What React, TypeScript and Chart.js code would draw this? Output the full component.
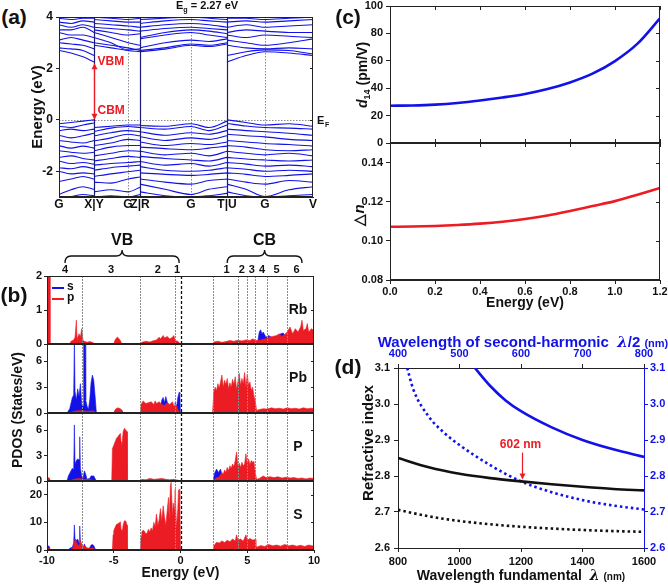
import React, { useEffect, useRef } from "react";
import { Chart, registerables } from "chart.js";

Chart.register(...registerables);

const FONT = "'Liberation Sans', Arial, Helvetica, sans-serif";
Chart.defaults.font.family = FONT;
(Chart.defaults.font as any).weight = "bold";
Chart.defaults.font.size = 11;
Chart.defaults.color = "#111";

const BLUE = "#1212e8";
const RED = "#ec1c24";
const AXIS = "#222";

// ---------------- (a) band structure ----------------
const kSeg1 = [0, 12, 24, 35];
const kSeg2 = [35, 52, 69, 81];
const kSeg3 = [81, 106, 132, 150, 168];
const kSeg4 = [168, 187, 206, 230, 254];
const kPath = [kSeg1, kSeg2, kSeg3, kSeg4];
const kTickPos = [0, 35, 69, 81, 132, 168, 206, 254];
const kTickLabels = ["G", "X|Y", "G", "Z|R", "G", "T|U", "G", "V"];
const kBoundaryLines = [35, 81, 168];
const kGammaLines = [69, 132, 206];
const bandYTicks = [-2, 0, 2, 4];
const gapK = 35;
const gapTopE = 2.2;
const gapBottomE = 0;

const valenceBands = [
  [[-0.15, -0.1, -0.05, 0.0], [-0.3, -0.25, -0.2, -0.2], [-0.22, -0.25, -0.15, -0.3, -0.05], [0.0, -0.1, -0.2, -0.15, -0.25]],
  [[-0.25, -0.3, -0.2, -0.12], [-0.45, -0.32, -0.26, -0.3], [-0.3, -0.36, -0.26, -0.42, -0.2], [-0.14, -0.24, -0.3, -0.32, -0.36]],
  [[-0.42, -0.36, -0.42, -0.36], [-0.62, -0.5, -0.42, -0.46], [-0.46, -0.6, -0.5, -0.56, -0.42], [-0.36, -0.42, -0.46, -0.52, -0.6]],
  [[-0.6, -0.7, -0.62, -0.52], [-0.82, -0.7, -0.56, -0.62], [-0.66, -0.8, -0.7, -0.76, -0.62], [-0.56, -0.62, -0.66, -0.76, -0.8]],
  [[-0.8, -0.86, -0.9, -0.8], [-1.0, -0.9, -0.76, -0.8], [-0.86, -1.0, -0.92, -0.96, -0.86], [-0.8, -0.86, -0.92, -0.96, -1.02]],
  [[-1.0, -1.1, -1.02, -1.1], [-1.2, -1.06, -1.0, -1.0], [-1.06, -1.12, -1.16, -1.1, -1.02], [-1.0, -1.06, -1.16, -1.2, -1.16]],
  [[-1.2, -1.26, -1.3, -1.26], [-1.4, -1.3, -1.2, -1.22], [-1.22, -1.36, -1.3, -1.4, -1.22], [-1.22, -1.3, -1.36, -1.3, -1.4]],
  [[-1.46, -1.4, -1.5, -1.56], [-1.6, -1.5, -1.42, -1.46], [-1.42, -1.5, -1.56, -1.6, -1.46], [-1.46, -1.52, -1.56, -1.6, -1.56]],
  [[-1.6, -1.7, -1.66, -1.72], [-1.76, -1.7, -1.66, -1.62], [-1.62, -1.76, -1.7, -1.8, -1.66], [-1.66, -1.72, -1.8, -1.76, -1.82]],
  [[-1.86, -1.9, -1.82, -1.9], [-1.96, -1.86, -1.8, -1.76], [-1.82, -1.96, -2.0, -1.96, -1.86], [-1.86, -1.92, -2.0, -1.96, -2.0]],
  [[-2.0, -2.1, -2.06, -2.1], [-2.2, -2.1, -2.02, -1.96], [-2.06, -2.12, -2.16, -2.12, -2.06], [-2.06, -2.12, -2.2, -2.16, -2.1]],
  [[-2.4, -2.3, -2.2, -2.3], [-2.42, -2.46, -2.3, -2.22], [-2.3, -2.42, -2.5, -2.36, -2.3], [-2.3, -2.42, -2.5, -2.36, -2.42]],
  [[-2.9, -2.72, -2.6, -2.7], [-2.8, -2.72, -2.8, -2.62], [-2.5, -2.7, -2.9, -2.7, -2.6], [-2.5, -2.7, -2.98, -2.72, -2.6]],
  [[-3.0, -2.98, -2.9, -2.95], [-3.0, -2.95, -3.0, -2.9], [-2.8, -2.95, -3.0, -2.95, -2.86], [-2.8, -2.95, -3.0, -2.95, -2.9]],
];

const conductionBands = [
  [[2.7, 2.6, 2.45, 2.25], [2.9, 2.8, 2.7, 2.65], [2.65, 2.75, 2.9, 2.85, 2.95], [2.25, 2.5, 2.65, 2.6, 2.5]],
  [[2.8, 2.76, 2.7, 2.5], [3.0, 2.9, 2.8, 2.7], [2.7, 2.8, 2.95, 2.9, 3.0], [2.5, 2.65, 2.72, 2.7, 2.56]],
  [[3.0, 2.95, 2.9, 2.76], [3.2, 3.0, 2.72, 2.76], [2.8, 3.0, 3.1, 3.05, 3.15], [2.9, 2.8, 2.76, 2.8, 2.76]],
  [[3.1, 3.2, 3.1, 3.0], [3.4, 3.2, 3.0, 2.9], [3.15, 3.3, 3.4, 3.3, 3.2], [3.1, 3.0, 2.9, 3.0, 3.15]],
  [[3.4, 3.3, 3.3, 3.2], [3.5, 3.4, 3.3, 3.35], [3.2, 3.4, 3.5, 3.45, 3.35], [3.3, 3.2, 3.3, 3.25, 3.2]],
  [[3.5, 3.5, 3.6, 3.4], [3.6, 3.55, 3.5, 3.45], [3.45, 3.55, 3.6, 3.55, 3.5], [3.4, 3.5, 3.45, 3.4, 3.4]],
  [[3.7, 3.6, 3.7, 3.6], [3.75, 3.7, 3.65, 3.6], [3.6, 3.7, 3.75, 3.7, 3.6], [3.6, 3.7, 3.6, 3.65, 3.7]],
  [[3.8, 3.75, 3.85, 3.8], [3.9, 3.85, 3.8, 3.8], [3.75, 3.85, 3.9, 3.85, 3.8], [3.8, 3.85, 3.8, 3.85, 3.9]],
  [[3.95, 3.9, 3.95, 3.95], [4.0, 3.95, 3.9, 3.95], [3.9, 3.95, 4.0, 3.95, 3.9], [3.95, 3.95, 3.9, 3.95, 4.0]],
];

// ---------------- (b) PDOS ----------------
const pdosXTicks = [-10, -5, 0, 5, 10];
const pdosGuideLines = [-7.4, -3.0, -0.42, 2.42, 4.28, 4.95, 5.58, 6.45, 7.95];
const fermiE = 0;
const vbBraceRange = [-8.65, -0.1];
const cbBraceRange = [3.5, 9.1];
const vbLabelE = [-8.65, -5.2, -1.7, -0.25];
const vbLabels = ["4", "3", "2", "1"];
const cbLabelE = [3.45, 4.6, 5.35, 6.1, 7.2, 8.7];
const cbLabels = ["1", "2", "3", "4", "5", "6"];

const rbS = [[5.6, 0], [5.8, 0.1], [5.9, 0.35], [6.0, 0.42], [6.1, 0.3], [6.2, 0.35], [6.4, 0.2], [6.6, 0.25], [6.8, 0.2], [7.0, 0.18], [7.2, 0.2], [7.5, 0.3], [7.7, 0.32], [7.9, 0.2], [8.2, 0.1], [8.5, 0]];
const rbP = [
  [-10.0, 0], [-10.0, 30], [-9.78, 30], [-9.75, 0],
  [-8.3, 0], [-8.2, 0.08], [-8.0, 0.12], [-7.9, 0.2], [-7.8, 0.7], [-7.75, 0.15], [-7.6, 0.3], [-7.5, 0.2], [-7.4, 0.45], [-7.3, 0.1], [-7.2, 0.08], [-7.0, 0.05], [-6.8, 0.07], [-6.6, 0.05], [-6.4, 0],
  [-5.0, 0], [-4.9, 0.12], [-4.8, 0.18], [-4.7, 0.2], [-4.6, 0.15], [-4.5, 0.1], [-4.4, 0],
  [-3.0, 0], [-2.9, 0.05], [-2.6, 0.08], [-2.3, 0.06], [-2.0, 0.1], [-1.8, 0.12], [-1.6, 0.2], [-1.5, 0.15], [-1.3, 0.25], [-1.2, 0.18], [-1.0, 0.22], [-0.8, 0.15], [-0.6, 0.2], [-0.5, 0.25], [-0.4, 0.1], [-0.2, 0.08], [0, 0],
  [2.4, 0], [2.5, 0.06], [2.8, 0.08], [3.1, 0.05], [3.4, 0.07], [3.7, 0.1], [4.0, 0.08], [4.3, 0.11], [4.6, 0.09], [4.9, 0.12], [5.2, 0.1], [5.4, 0.15], [5.7, 0.1], [6.0, 0.12], [6.3, 0.15], [6.6, 0.2], [6.9, 0.22], [7.2, 0.25], [7.4, 0.3], [7.6, 0.22], [7.8, 0.28], [8.0, 0.35], [8.2, 0.5], [8.4, 0.3], [8.6, 0.45], [8.8, 0.35], [9.0, 0.5], [9.1, 0.7], [9.2, 0.4], [9.4, 0.45], [9.5, 0.6], [9.6, 0.35], [9.8, 0.45], [10, 0.4],
];
const pbS = [
  [-8.5, 0], [-8.3, 0.5], [-8.1, 1.8], [-8.0, 2.1], [-7.95, 8.5], [-7.9, 2.5], [-7.8, 1.5], [-7.7, 2.8], [-7.6, 1.9], [-7.5, 3.4], [-7.4, 1.0], [-7.3, 0.8], [-7.25, 9], [-7.15, 9], [-7.1, 1.5], [-7.0, 0.8], [-6.9, 0.4], [-6.8, 1.5], [-6.7, 3.5], [-6.6, 4.4], [-6.5, 3.8], [-6.4, 2.0], [-6.3, 0],
  [-5.0, 0], [-4.9, 0.2], [-4.7, 0.4], [-4.6, 0.2], [-4.4, 0.35], [-4.3, 0],
  [-1.6, 0], [-1.5, 0.6], [-1.4, 1.5], [-1.3, 1.8], [-1.2, 1.2], [-1.1, 1.9], [-1.0, 1.3], [-0.9, 0.8], [-0.8, 0], [-0.45, 0], [-0.4, 1.2], [-0.3, 0.6], [-0.2, 1.8], [-0.1, 2.4], [-0.05, 2.2], [0, 0],
];
const pbP = [
  [-8.3, 0], [-8.0, 0.2], [-7.5, 0.3], [-7.0, 0.2], [-6.5, 0.25], [-6.3, 0],
  [-5.0, 0], [-4.9, 0.4], [-4.7, 0.6], [-4.5, 0.5], [-4.4, 0.3], [-4.3, 0],
  [-3.0, 0], [-2.95, 1.0], [-2.8, 1.4], [-2.6, 1.1], [-2.4, 1.2], [-2.2, 1.3], [-2.0, 1.0], [-1.9, 1.4], [-1.8, 1.1], [-1.6, 1.3], [-1.4, 1.0], [-1.2, 0.9], [-1.0, 1.2], [-0.8, 1.0], [-0.6, 1.3], [-0.5, 0.8], [-0.3, 0.9], [-0.2, 0.4], [0, 0],
  [2.4, 0], [2.5, 2.5], [2.6, 3.0], [2.7, 2.6], [2.8, 3.4], [2.9, 2.9], [3.0, 3.6], [3.1, 4.4], [3.2, 3.0], [3.3, 3.8], [3.4, 3.3], [3.5, 4.0], [3.6, 2.8], [3.7, 3.5], [3.8, 3.0], [3.9, 3.9], [4.0, 3.3], [4.1, 4.2], [4.2, 2.7], [4.3, 3.6], [4.4, 4.6], [4.5, 3.2], [4.6, 4.0], [4.7, 3.4], [4.8, 4.7], [4.9, 3.0], [5.0, 4.5], [5.1, 3.2], [5.2, 3.6], [5.3, 2.6], [5.4, 3.0], [5.5, 2.0], [5.6, 1.4], [5.7, 0.3], [5.9, 0.4], [6.2, 0.5], [6.5, 0.45], [6.8, 0.6], [7.1, 0.5], [7.4, 0.55], [7.7, 0.45], [8.0, 0.6], [8.3, 0.5], [8.6, 0.55], [8.9, 0.45], [9.2, 0.6], [9.5, 0.5], [9.8, 0.55], [10, 0.5],
];
const pS = [
  [-10, 0], [-9.95, 0.2], [-9.85, 0.3], [-9.75, 0],
  [-8.5, 0], [-8.4, 0.6], [-8.2, 1.2], [-8.1, 1.5], [-8.0, 1.3], [-7.95, 6.6], [-7.9, 2.0], [-7.8, 2.4], [-7.7, 2.6], [-7.6, 2.5], [-7.55, 5.2], [-7.5, 1.5], [-7.4, 0.6], [-7.3, 0.3], [-7.2, 1.2], [-7.1, 0.8], [-7.0, 0.2], [-6.8, 0.3], [-6.7, 0.6], [-6.5, 0.6], [-6.4, 0.3], [-6.3, 0],
  [-4.9, 0], [-4.8, 0.1], [-4.6, 0.1], [-4.5, 0],
  [2.45, 0], [2.55, 0.9], [2.7, 1.4], [2.85, 1.0], [3.0, 1.4], [3.1, 0.8], [3.2, 0],
];
const pP = [
  [-10, 0], [-9.95, 0.3], [-9.85, 0.4], [-9.75, 0],
  [-8.3, 0], [-8.0, 0.2], [-7.6, 0.3], [-7.2, 0.2], [-6.8, 0.2], [-6.4, 0],
  [-5.15, 0], [-5.1, 3.8], [-5.0, 4.2], [-4.9, 4.6], [-4.8, 5.0], [-4.7, 5.2], [-4.6, 5.4], [-4.5, 5.6], [-4.45, 4.6], [-4.4, 3.8], [-4.3, 5.8], [-4.2, 6.2], [-4.1, 6.0], [-4.0, 5.8], [-3.98, 0],
  [-3.0, 0], [-2.9, 0.2], [-2.6, 0.15], [-2.3, 0.3], [-2.0, 0.2], [-1.7, 0.25], [-1.4, 0.3], [-1.1, 0.2], [-0.8, 0.15], [-0.5, 0.2], [-0.2, 0.1], [0, 0],
  [2.5, 0], [2.6, 0.3], [2.9, 0.5], [3.1, 1.0], [3.2, 0.8], [3.3, 1.3], [3.4, 1.0], [3.5, 1.6], [3.6, 1.2], [3.7, 1.8], [3.8, 1.5], [3.9, 2.0], [4.0, 1.7], [4.1, 2.4], [4.2, 3.4], [4.3, 1.8], [4.4, 2.1], [4.5, 1.6], [4.6, 2.2], [4.7, 1.8], [4.8, 2.0], [4.9, 3.2], [5.0, 2.0], [5.1, 2.6], [5.2, 1.9], [5.3, 2.4], [5.4, 2.2], [5.5, 2.3], [5.6, 1.0], [5.7, 0.2], [5.9, 0.3], [6.2, 0.6], [6.4, 0.4], [6.7, 0.5], [7.0, 0.4], [7.3, 0.5], [7.6, 0.35], [7.9, 0.45], [8.2, 0.35], [8.5, 0.4], [8.8, 0.3], [9.1, 0.35], [9.4, 0.25], [9.7, 0.35], [10, 0.3],
];
const sS = [
  [-10, 0], [-9.95, 1.2], [-9.85, 1.5], [-9.75, 0],
  [-8.4, 0], [-8.3, 0.6], [-8.1, 1.0], [-8.0, 2.5], [-7.95, 9.1], [-7.9, 4.0], [-7.8, 3.5], [-7.7, 4.0], [-7.6, 2.5], [-7.55, 8.7], [-7.5, 3.0], [-7.4, 1.0], [-7.3, 0.6], [-7.2, 2.2], [-7.1, 1.0], [-7.0, 0.3], [-6.8, 0.8], [-6.7, 1.8], [-6.6, 2.0], [-6.5, 1.6], [-6.4, 0.5], [-6.3, 0],
];
const sP = [
  [-10, 0], [-9.95, 0.5], [-9.85, 0.6], [-9.75, 0],
  [-8.3, 0], [-8.1, 0.5], [-8.0, 1.5], [-7.9, 4.0], [-7.8, 3.0], [-7.7, 2.0], [-7.6, 1.5], [-7.5, 3.5], [-7.4, 2.0], [-7.3, 1.0], [-7.2, 1.5], [-7.0, 0.8], [-6.8, 0.5], [-6.6, 0.8], [-6.4, 0.3], [-6.3, 0],
  [-5.1, 0], [-5.05, 5.5], [-5.0, 7.0], [-4.9, 8.2], [-4.8, 9.2], [-4.7, 9.5], [-4.6, 9.8], [-4.5, 10.2], [-4.45, 7.5], [-4.35, 7.0], [-4.3, 9.0], [-4.2, 10.6], [-4.1, 10.5], [-4.0, 9.0], [-3.98, 0],
  [-3.0, 0], [-2.95, 5.0], [-2.9, 6.5], [-2.8, 7.2], [-2.7, 6.8], [-2.6, 5.8], [-2.5, 6.2], [-2.4, 7.5], [-2.3, 6.5], [-2.2, 8.0], [-2.1, 7.0], [-2.0, 10.0], [-1.9, 8.5], [-1.8, 13.0], [-1.7, 9.0], [-1.6, 11.0], [-1.5, 15.0], [-1.4, 10.5], [-1.3, 16.0], [-1.2, 12.0], [-1.1, 9.0], [-1.0, 14.0], [-0.9, 19.0], [-0.85, 11.0], [-0.75, 23.5], [-0.7, 24.5], [-0.6, 12.0], [-0.55, 17.0], [-0.45, 14.0], [-0.4, 22.0], [-0.3, 8.0], [-0.2, 15.0], [-0.15, 21.5], [-0.1, 22.0], [-0.05, 18.0], [0, 0],
  [2.45, 0], [2.5, 1.5], [2.7, 2.8], [2.9, 2.5], [3.1, 3.3], [3.3, 2.7], [3.5, 3.5], [3.7, 3.0], [3.9, 4.0], [4.1, 3.3], [4.2, 5.5], [4.3, 3.5], [4.5, 4.0], [4.7, 3.2], [4.9, 5.5], [5.0, 3.5], [5.2, 4.2], [5.4, 3.6], [5.6, 3.8], [5.65, 1.0], [5.8, 1.2], [6.0, 1.6], [6.3, 1.3], [6.6, 2.0], [6.9, 1.5], [7.2, 1.8], [7.5, 1.4], [7.8, 2.0], [8.1, 1.5], [8.4, 1.8], [8.7, 1.4], [9.0, 1.7], [9.3, 1.3], [9.6, 1.8], [10, 1.4],
];

// ---------------- (c) ----------------
const energyC = [0, 0.1, 0.2, 0.3, 0.4, 0.5, 0.6, 0.7, 0.8, 0.9, 1.0, 1.1, 1.2];
const d14Values = [27.2, 27.4, 28.0, 29.2, 31.0, 33.2, 35.8, 39.4, 44.2, 50.6, 59.8, 72.5, 91.0];
const deltaNValues = [0.1072, 0.1073, 0.1076, 0.1081, 0.1088, 0.1098, 0.1112, 0.113, 0.1153, 0.1178, 0.1203, 0.1236, 0.127];
const cTicksX = [0, 0.2, 0.4, 0.6, 0.8, 1.0, 1.2];
const d14Ticks = [0, 20, 40, 60, 80, 100];
const dnTicks = [0.08, 0.1, 0.12, 0.14];

// ---------------- (d) ----------------
const lambdaFund = [800, 900, 1000, 1100, 1200, 1300, 1400, 1500, 1600];
const nFundSolid = [2.85, 2.824, 2.806, 2.794, 2.785, 2.777, 2.77, 2.764, 2.76];
const nFundDotted = [2.706, 2.688, 2.675, 2.666, 2.659, 2.654, 2.65, 2.647, 2.645];
const lambdaSHDot = [415, 425, 450, 475, 500, 550, 600, 650, 700, 750, 800];
const nSHDotted = [3.1, 3.04, 2.965, 2.92, 2.886, 2.83, 2.785, 2.755, 2.733, 2.718, 2.707];
const lambdaSHSolid = [525, 550, 575, 600, 650, 700, 750, 800];
const nSHSolid = [3.1, 3.05, 3.01, 2.98, 2.935, 2.9, 2.874, 2.853];
const dFundTicks = [800, 1000, 1200, 1400, 1600];
const dSHTicks = [400, 500, 600, 700, 800];
const dNTicks = [2.6, 2.7, 2.8, 2.9, 3.0, 3.1];
const phaseMatchSH = 602;
const phaseArrowN = [2.865, 2.79];

// ---------------- helpers ----------------
type Box = { L: number; T: number; R: number; B: number; wl: number; wr: number; ht: number; hb: number; pl: number; pr: number; pt: number; pb: number };
const mk = (L: number, T: number, R: number, B: number, o: Partial<Box>): Box => ({ L, T, R, B, wl: 0, wr: 0, ht: 0, hb: 0, pl: 0, pr: 0, pt: 0, pb: 0, ...o });

const fitW = (w: number) => (s: any) => { s.width = w; };
const fitH = (h: number) => (s: any) => { s.height = h; };
const fixed = (vals: number[]) => (s: any) => { s.ticks = vals.map((v) => ({ value: v })); };
const pairs = (a: number[][]) => a.map(([x, y]) => ({ x, y }));
const xy = (xs: number[], ys: number[]) => xs.map((x, i) => ({ x, y: ys[i] }));

function baseOptions(b: Box) {
  return {
    responsive: false,
    animation: false,
    events: [],
    layout: { padding: { left: b.pl, right: b.pr, top: b.pt, bottom: b.pb } },
    plugins: { legend: { display: false }, tooltip: { enabled: false } },
    elements: { point: { radius: 0 }, line: { tension: 0 } },
  };
}

function txt(ctx: any, s: string, x: number, y: number, o: any = {}) {
  ctx.save();
  ctx.font = `${o.italic ? "italic " : ""}bold ${o.size || 11}px ${FONT}`;
  ctx.fillStyle = o.color || "#111";
  ctx.textAlign = o.align || "center";
  ctx.textBaseline = o.baseline || "middle";
  ctx.fillText(s, x, y);
  ctx.restore();
}

function vline(ctx: any, x: number, y1: number, y2: number, color: string, width: number, dash: number[]) {
  ctx.save();
  ctx.strokeStyle = color;
  ctx.lineWidth = width;
  ctx.setLineDash(dash);
  ctx.beginPath();
  ctx.moveTo(Math.round(x) + 0.5, y1);
  ctx.lineTo(Math.round(x) + 0.5, y2);
  ctx.stroke();
  ctx.restore();
}

function frame(chart: any, color = AXIS) {
  const { ctx, chartArea: a } = chart;
  ctx.save();
  ctx.strokeStyle = color;
  ctx.lineWidth = 1;
  ctx.strokeRect(Math.round(a.left) + 0.5, Math.round(a.top) + 0.5, Math.round(a.right - a.left) - 1, Math.round(a.bottom - a.top) - 1);
  ctx.restore();
}

function mirror(chart: any, o: { right?: number[]; top?: number[]; bottom?: number[]; len?: number; color?: string }) {
  const { ctx, chartArea: a, scales } = chart;
  const len = o.len || 4;
  ctx.save();
  ctx.strokeStyle = o.color || AXIS;
  ctx.lineWidth = 1;
  ctx.beginPath();
  (o.right || []).forEach((v) => { const y = Math.round(scales.y.getPixelForValue(v)) + 0.5; ctx.moveTo(a.right, y); ctx.lineTo(a.right - len, y); });
  (o.top || []).forEach((v) => { const x = Math.round(scales.x.getPixelForValue(v)) + 0.5; ctx.moveTo(x, a.top); ctx.lineTo(x, a.top + len); });
  (o.bottom || []).forEach((v) => { const x = Math.round(scales.x.getPixelForValue(v)) + 0.5; ctx.moveTo(x, a.bottom); ctx.lineTo(x, a.bottom - len); });
  ctx.stroke();
  ctx.restore();
}

function arrowHead(ctx: any, x: number, y: number, dir: number, color: string) {
  ctx.save();
  ctx.fillStyle = color;
  ctx.beginPath();
  ctx.moveTo(x, y);
  ctx.lineTo(x - 3, y - dir * 6);
  ctx.lineTo(x + 3, y - dir * 6);
  ctx.closePath();
  ctx.fill();
  ctx.restore();
}

function PlacedChart({ box, build }: { box: Box; build: (b: Box) => any }) {
  const ref = useRef<HTMLCanvasElement>(null);
  const left = box.L - box.wl - box.pl;
  const top = box.T - box.ht - box.pt;
  const width = box.R + box.wr + box.pr - left;
  const height = box.B + box.hb + box.pb - top;
  useEffect(() => {
    const chart = new Chart(ref.current as HTMLCanvasElement, build(box));
    return () => chart.destroy();
  }, []);
  return <canvas ref={ref} width={width} height={height} style={{ position: "absolute", left, top, width, height }} />;
}

// ---------------- (a) config ----------------
function bandPoints(band: number[][]) {
  const pts: any[] = [];
  kPath.forEach((seg, s) => {
    seg.forEach((k, j) => pts.push({ x: k, y: band[s][j] }));
    if (s < kPath.length - 1) pts.push({ x: seg[seg.length - 1], y: null });
  });
  return pts;
}

const boxA = mk(59, 17, 313, 197, { wl: 30, hb: 16, pt: 14, pr: 16 });
function buildBand(b: Box) {
  return {
    type: "line",
    data: {
      datasets: [...valenceBands, ...conductionBands].map((band) => ({
        data: bandPoints(band), borderColor: BLUE, borderWidth: 1.1, pointRadius: 0,
        cubicInterpolationMode: "monotone", spanGaps: false, fill: false,
      })),
    },
    options: {
      ...baseOptions(b),
      scales: {
        x: {
          type: "linear", min: 0, max: 254, afterFit: fitH(b.hb), afterBuildTicks: fixed(kTickPos),
          ticks: { autoSkip: false, maxRotation: 0, minRotation: 0, padding: 0, font: { size: 12 }, callback: (_v: any, i: number) => kTickLabels[i] },
          grid: { display: false, drawTicks: false }, border: { color: AXIS },
        },
        y: {
          type: "linear", min: -3, max: 4, afterFit: fitW(b.wl), afterBuildTicks: fixed(bandYTicks),
          ticks: { padding: 3, font: { size: 12 } },
          grid: { drawOnChartArea: false, tickLength: 3, color: AXIS }, border: { color: AXIS },
          title: { display: true, text: "Energy (eV)", font: { size: 15, weight: "bold" }, padding: 0, color: "#111" },
        },
      },
    },
    plugins: [{
      id: "bandDecor",
      beforeDatasetsDraw(chart: any) {
        const { ctx, chartArea: a, scales } = chart;
        kGammaLines.forEach((k) => vline(ctx, scales.x.getPixelForValue(k), a.top, a.bottom, "#8c8c8c", 1, [1.5, 1.5]));
        const y0 = Math.round(scales.y.getPixelForValue(0)) + 0.5;
        ctx.save(); ctx.strokeStyle = "#8c8c8c"; ctx.setLineDash([1.5, 1.5]); ctx.beginPath(); ctx.moveTo(a.left, y0); ctx.lineTo(a.right, y0); ctx.stroke(); ctx.restore();
      },
      afterDatasetsDraw(chart: any) {
        const { ctx, chartArea: a, scales } = chart;
        kBoundaryLines.forEach((k) => vline(ctx, scales.x.getPixelForValue(k), a.top, a.bottom, "#1a1a7a", 1.2, []));
        frame(chart);
        mirror(chart, { right: bandYTicks, len: 3 });
        const x = Math.round(scales.x.getPixelForValue(gapK)) + 0.5;
        const yT = scales.y.getPixelForValue(gapTopE);
        const yB = scales.y.getPixelForValue(gapBottomE);
        ctx.save(); ctx.strokeStyle = RED; ctx.lineWidth = 1.2; ctx.beginPath(); ctx.moveTo(x, yT + 4); ctx.lineTo(x, yB - 4); ctx.stroke(); ctx.restore();
        arrowHead(ctx, x, yT, -1, RED);
        arrowHead(ctx, x, yB, 1, RED);
        txt(ctx, "VBM", x + 3, scales.y.getPixelForValue(2.25), { color: RED, size: 12, align: "left" });
        txt(ctx, "CBM", x + 3, scales.y.getPixelForValue(0.35), { color: RED, size: 12, align: "left" });
        const yF = scales.y.getPixelForValue(0);
        txt(ctx, "E", a.right + 4, yF + 1, { size: 11, align: "left" });
        txt(ctx, "F", a.right + 12, yF + 5, { size: 7, align: "left" });
      },
    }],
  };
}

// ---------------- (b) config ----------------
type PdosCfg = { id: string; name: string; s: number[][]; p: number[][]; yMax: number; ticks: number[]; bottomAxis: boolean; extra?: (chart: any) => void };

function buildPdos(cfg: PdosCfg) {
  return (b: Box) => ({
    type: "line",
    data: {
      datasets: [
        { label: "s", data: pairs(cfg.s), borderColor: BLUE, backgroundColor: BLUE, fill: "origin", borderWidth: 0.6, pointRadius: 0, order: 1 },
        { label: "p", data: pairs(cfg.p), borderColor: RED, backgroundColor: RED, fill: "origin", borderWidth: 0.6, pointRadius: 0, order: 0 },
      ],
    },
    options: {
      ...baseOptions(b),
      scales: {
        x: {
          type: "linear", min: -10, max: 10, display: cfg.bottomAxis, afterFit: fitH(b.hb), afterBuildTicks: fixed(pdosXTicks),
          ticks: { padding: 1, maxRotation: 0, font: { size: 11 } },
          grid: { drawOnChartArea: false, tickLength: 3, color: AXIS }, border: { color: AXIS },
          title: { display: true, text: "Energy (eV)", font: { size: 14, weight: "bold" }, padding: 0, color: "#111" },
        },
        y: {
          type: "linear", min: 0, max: cfg.yMax, afterFit: fitW(b.wl), afterBuildTicks: fixed(cfg.ticks),
          ticks: { padding: 2, font: { size: 11 } },
          grid: { drawOnChartArea: false, tickLength: 3, color: AXIS }, border: { color: AXIS },
        },
      },
    },
    plugins: [{
      id: "pdos_" + cfg.id,
      afterDatasetsDraw(chart: any) {
        const { ctx, chartArea: a, scales } = chart;
        pdosGuideLines.forEach((e) => vline(ctx, scales.x.getPixelForValue(e), a.top, a.bottom, "#8a8a8a", 1, [2, 1]));
        vline(ctx, scales.x.getPixelForValue(fermiE), a.top, a.bottom, "#111", 1.3, [3, 2]);
        frame(chart);
        mirror(chart, { right: cfg.ticks, len: 3 });
        txt(ctx, cfg.name, a.right - 16, (a.top + a.bottom) / 2, { size: 14 });
        if (cfg.extra) cfg.extra(chart);
      },
    }],
  });
}

function brace(ctx: any, x1: number, x2: number, yEnd: number, yFlat: number, yTip: number) {
  const tip = (x1 + x2) / 2;
  ctx.save();
  ctx.strokeStyle = "#111";
  ctx.lineWidth = 1.3;
  ctx.beginPath();
  ctx.moveTo(x1, yEnd);
  ctx.quadraticCurveTo(x1, yFlat, x1 + 6, yFlat);
  ctx.lineTo(tip - 6, yFlat);
  ctx.quadraticCurveTo(tip, yFlat, tip, yTip);
  ctx.quadraticCurveTo(tip, yFlat, tip + 6, yFlat);
  ctx.lineTo(x2 - 6, yFlat);
  ctx.quadraticCurveTo(x2, yFlat, x2, yEnd);
  ctx.stroke();
  ctx.restore();
}

function rbExtra(chart: any) {
  const { ctx, chartArea: a, scales } = chart;
  const X = (e: number) => scales.x.getPixelForValue(e);
  brace(ctx, X(vbBraceRange[0]), X(vbBraceRange[1]), a.top - 13, a.top - 20, a.top - 26);
  brace(ctx, X(cbBraceRange[0]), X(cbBraceRange[1]), a.top - 13, a.top - 20, a.top - 26);
  txt(ctx, "VB", (X(vbBraceRange[0]) + X(vbBraceRange[1])) / 2, a.top - 35, { size: 16 });
  txt(ctx, "CB", (X(cbBraceRange[0]) + X(cbBraceRange[1])) / 2, a.top - 35, { size: 16 });
  vbLabelE.forEach((e, i) => txt(ctx, vbLabels[i], X(e), a.top - 6, { size: 11 }));
  cbLabelE.forEach((e, i) => txt(ctx, cbLabels[i], X(e), a.top - 6, { size: 11 }));
  // legend
  const lx = a.left + 5;
  [["s", BLUE, a.top + 12], ["p", RED, a.top + 23]].forEach(([lab, col, y]: any) => {
    ctx.save(); ctx.strokeStyle = col; ctx.lineWidth = 2; ctx.beginPath(); ctx.moveTo(lx, y); ctx.lineTo(lx + 12, y); ctx.stroke(); ctx.restore();
    txt(ctx, lab, lx + 15, y - 1, { size: 12, align: "left" });
  });
}

const boxRb = mk(47, 276, 314, 344, { wl: 47, pt: 44, pr: 10, pb: 12 });
const boxPb = mk(47, 344, 314, 413, { wl: 47, pt: 12, pr: 10, pb: 12 });
const boxP = mk(47, 413, 314, 481, { wl: 47, pt: 12, pr: 10, pb: 12 });
const boxS = mk(47, 481, 314, 550, { wl: 47, pt: 12, pr: 12, hb: 32 });

const buildRb = buildPdos({ id: "rb", name: "Rb", s: rbS, p: rbP, yMax: 2, ticks: [0, 1, 2], bottomAxis: false, extra: rbExtra });
const buildPb = buildPdos({ id: "pb", name: "Pb", s: pbS, p: pbP, yMax: 8, ticks: [0, 3, 6], bottomAxis: false });
const buildP = buildPdos({ id: "p", name: "P", s: pS, p: pP, yMax: 8, ticks: [0, 3, 6], bottomAxis: false });
const buildS = buildPdos({ id: "s", name: "S", s: sS, p: sP, yMax: 25, ticks: [0, 10, 20], bottomAxis: true });

// ---------------- (c) config ----------------
const boxC1 = mk(390, 6, 660, 143, { wl: 40, pt: 10, pr: 12, pb: 12 });
const boxC2 = mk(390, 143, 660, 280, { wl: 40, pt: 12, pr: 12, hb: 32 });

function buildC(top: boolean) {
  return (b: Box) => ({
    type: "line",
    data: {
      datasets: [{
        data: xy(energyC, top ? d14Values : deltaNValues), borderColor: top ? BLUE : RED, borderWidth: 2.6,
        pointRadius: 0, cubicInterpolationMode: "monotone", fill: false,
      }],
    },
    options: {
      ...baseOptions(b),
      scales: {
        x: {
          type: "linear", min: 0, max: 1.2, display: !top, afterFit: fitH(b.hb), afterBuildTicks: fixed(cTicksX),
          ticks: { padding: 1, maxRotation: 0, font: { size: 11 }, callback: (v: any) => Number(v).toFixed(1) },
          grid: { drawOnChartArea: false, tickLength: 4, color: AXIS }, border: { color: AXIS },
          title: { display: true, text: "Energy (eV)", font: { size: 14, weight: "bold" }, padding: 0, color: "#111" },
        },
        y: {
          type: "linear", min: top ? 0 : 0.08, max: top ? 100 : 0.15, afterFit: fitW(b.wl), afterBuildTicks: fixed(top ? d14Ticks : dnTicks),
          ticks: { padding: 3, font: { size: 11 }, callback: (v: any) => (top ? String(v) : Number(v).toFixed(2)) },
          grid: { drawOnChartArea: false, tickLength: 4, color: AXIS }, border: { color: AXIS },
        },
      },
    },
    plugins: [{
      id: top ? "cTop" : "cBottom",
      afterDatasetsDraw(chart: any) {
        frame(chart);
        mirror(chart, { right: top ? d14Ticks : dnTicks, top: cTicksX, bottom: top ? cTicksX : [], len: 4 });
      },
    }],
  });
}

// ---------------- (d) config ----------------
const boxD = mk(398, 368, 644, 548, { wl: 28, wr: 30, ht: 20, hb: 20 });
function buildD(b: Box) {
  const common = { pointRadius: 0, cubicInterpolationMode: "monotone", fill: false, borderWidth: 2.6 };
  return {
    type: "line",
    data: {
      datasets: [
        { ...common, data: xy(lambdaFund, nFundSolid), borderColor: "#111", xAxisID: "x", yAxisID: "y" },
        { ...common, data: xy(lambdaFund, nFundDotted), borderColor: "#111", borderDash: [2.5, 3], xAxisID: "x", yAxisID: "y" },
        { ...common, data: xy(lambdaSHDot, nSHDotted), borderColor: BLUE, borderDash: [2.5, 3], xAxisID: "x2", yAxisID: "y2" },
        { ...common, data: xy(lambdaSHSolid, nSHSolid), borderColor: BLUE, xAxisID: "x2", yAxisID: "y2" },
      ],
    },
    options: {
      ...baseOptions(b),
      scales: {
        x: {
          type: "linear", position: "bottom", min: 800, max: 1600, afterFit: fitH(b.hb), afterBuildTicks: fixed(dFundTicks),
          ticks: { padding: 3, maxRotation: 0, font: { size: 11 }, callback: (v: any) => String(v) },
          grid: { drawOnChartArea: false, tickLength: 4, color: AXIS }, border: { color: AXIS },
        },
        x2: {
          type: "linear", position: "top", min: 400, max: 800, afterFit: fitH(b.ht), afterBuildTicks: fixed(dSHTicks),
          ticks: { padding: 3, maxRotation: 0, color: BLUE, font: { size: 11 }, callback: (v: any) => String(v) },
          grid: { drawOnChartArea: false, tickLength: 4, color: AXIS }, border: { color: AXIS },
        },
        y: {
          type: "linear", position: "left", min: 2.6, max: 3.1, afterFit: fitW(b.wl), afterBuildTicks: fixed(dNTicks),
          ticks: { padding: 4, font: { size: 11 }, callback: (v: any) => Number(v).toFixed(1) },
          grid: { drawOnChartArea: false, tickLength: 4, color: AXIS }, border: { color: AXIS },
        },
        y2: {
          type: "linear", position: "right", min: 2.6, max: 3.1, afterFit: fitW(b.wr), afterBuildTicks: fixed(dNTicks),
          ticks: { padding: 2, color: BLUE, font: { size: 11 }, callback: (v: any) => Number(v).toFixed(1) },
          grid: { drawOnChartArea: false, tickLength: 4, color: BLUE }, border: { color: BLUE },
        },
      },
    },
    plugins: [{
      id: "dDecor",
      afterDatasetsDraw(chart: any) {
        const { ctx, scales } = chart;
        const x = Math.round(scales.x2.getPixelForValue(phaseMatchSH)) + 0.5;
        const y1 = scales.y.getPixelForValue(phaseArrowN[0]);
        const y2 = scales.y.getPixelForValue(phaseArrowN[1]);
        ctx.save(); ctx.strokeStyle = RED; ctx.lineWidth = 1.2; ctx.beginPath(); ctx.moveTo(x, y1); ctx.lineTo(x, y2 - 5); ctx.stroke(); ctx.restore();
        arrowHead(ctx, x, y2, 1, RED);
        txt(ctx, `${phaseMatchSH} nm`, x - 2, y1 - 8, { color: RED, size: 12 });
      },
    }],
  };
}

// ---------------- overlays ----------------
function Lbl({ x, y, size, color = "#111", rotate = false, children }: any) {
  return (
    <div style={{
      position: "absolute", left: x, top: y, transform: `translate(-50%, -50%)${rotate ? " rotate(-90deg)" : ""}`,
      fontFamily: FONT, fontWeight: "bold", fontSize: size, color, whiteSpace: "nowrap", lineHeight: 1,
    }}>{children}</div>
  );
}
const sub = (s: string, size = "0.65em") => <span style={{ fontSize: size, position: "relative", top: "0.35em" }}>{s}</span>;

export default function App() {
  return (
    <div style={{ position: "fixed", left: 0, top: 0, width: 668, height: 584, background: "#fff", overflow: "hidden" }}>
      <PlacedChart box={boxA} build={buildBand} />
      <PlacedChart box={boxRb} build={buildRb} />
      <PlacedChart box={boxPb} build={buildPb} />
      <PlacedChart box={boxP} build={buildP} />
      <PlacedChart box={boxS} build={buildS} />
      <PlacedChart box={boxC1} build={buildC(true)} />
      <PlacedChart box={boxC2} build={buildC(false)} />
      <PlacedChart box={boxD} build={buildD} />

      <Lbl x={14} y={16} size={21}>(a)</Lbl>
      <Lbl x={14} y={294} size={21}>(b)</Lbl>
      <Lbl x={348} y={16} size={21}>(c)</Lbl>
      <Lbl x={348} y={366} size={21}>(d)</Lbl>
      <Lbl x={207} y={6} size={11}>E{sub("g")} = 2.27 eV</Lbl>
      <Lbl x={17} y={410} size={14} rotate>PDOS (States/eV)</Lbl>
      <Lbl x={362} y={75} size={14} rotate><i>d</i>{sub("14")} (pm/V)</Lbl>
      <Lbl x={358} y={215} size={15} rotate>△<i>n</i></Lbl>
      <Lbl x={367} y={443} size={15} rotate>Refractive index</Lbl>
      <Lbl x={523} y={342} size={15} color={BLUE}>Wavelength of second-harmonic&nbsp;&nbsp;<i style={{ fontFamily: "'DejaVu Serif', serif" }}>λ</i>/2 <span style={{ fontSize: 11 }}>(nm)</span></Lbl>
      <Lbl x={521} y={575} size={14}>Wavelength fundamental&nbsp;&nbsp;<i style={{ fontFamily: "'DejaVu Serif', serif" }}>λ</i> <span style={{ fontSize: 10 }}>(nm)</span></Lbl>
    </div>
  );
}
